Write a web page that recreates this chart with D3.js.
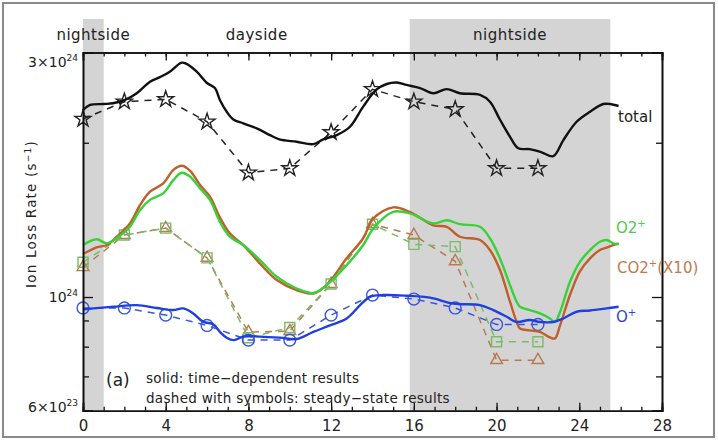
<!DOCTYPE html>
<html>
<head>
<meta charset="utf-8">
<script src="https://cdn.jsdelivr.net/npm/d3@7"></script>
<style>
  body { margin: 0; background: #fff; }
  text { font-family: "DejaVu Sans", sans-serif; fill: #222; }
</style>
</head>
<body>
<div id="chart"></div>
<script>
// steady-state runs (every 2 h), values in units of 1e24 s^-1
var hours = [0, 2, 4, 6, 8, 10, 12, 14, 16, 18, 20, 22];
var totalSteady = [2.225, 2.405, 2.431, 2.198, 1.748, 1.783, 2.096, 2.543, 2.405, 2.324, 1.783, 1.783];
var o2Steady = [1.169, 1.321, 1.363, 1.192, 0.833, 0.872, 1.060, 1.387, 1.267, 1.254, 0.818, 0.818];
var co2Steady = [1.143, 1.321, 1.363, 1.192, 0.854, 0.858, 1.060, 1.387, 1.321, 1.174, 0.753, 0.753];
var oSteady = [0.952, 0.952, 0.922, 0.880, 0.824, 0.824, 0.922, 1.009, 0.991, 0.952, 0.884, 0.884];

// time-dependent runs
var totalTime = [0, 0.34, 1.0, 1.45, 2.03, 2.6, 3.24, 3.72, 4.2, 4.77, 5.01, 5.5, 5.98, 6.38, 6.62, 6.95, 7.27, 7.75, 8.4, 9.04, 9.5, 10.33, 11.14, 11.62, 12.27, 12.91, 13.55, 14.2, 14.69, 15.17, 15.65, 16.3, 16.94, 17.59, 18.23, 19.2, 19.68, 20.16, 20.65, 21.05, 21.6, 22.18, 22.74, 23.23, 23.87, 24.52, 25.16, 25.48, 25.9];
var totalVals = [2.317, 2.370, 2.380, 2.388, 2.424, 2.498, 2.631, 2.685, 2.752, 2.866, 2.850, 2.752, 2.619, 2.557, 2.424, 2.299, 2.22, 2.182, 2.134, 2.070, 2.03, 2.009, 1.988, 2.03, 2.07, 2.149, 2.352, 2.541, 2.604, 2.622, 2.593, 2.557, 2.498, 2.545, 2.498, 2.48, 2.405, 2.22, 2.054, 1.951, 1.943, 1.916, 1.883, 2.024, 2.198, 2.299, 2.380, 2.38, 2.359];

var ionTime = [0, 0.66, 1.15, 1.63, 2.27, 2.76, 3.24, 3.88, 4.37, 4.77, 5.17, 5.66, 6.14, 6.62, 7.1, 7.75, 8.56, 9.37, 10.33, 11.14, 11.78, 12.75, 13.55, 14.04, 15.0, 15.8, 16.94, 17.59, 18.23, 19.2, 19.68, 20.16, 20.65, 20.97, 21.13, 21.6, 22.1, 22.58, 22.82, 23.07, 23.55, 24.03, 24.52, 25.0, 25.32, 25.64, 25.9];
var o2Vals = [1.263, 1.296, 1.273, 1.302, 1.371, 1.478, 1.547, 1.593, 1.691, 1.748, 1.718, 1.629, 1.547, 1.401, 1.311, 1.263, 1.180, 1.095, 1.039, 1.018, 1.055, 1.154, 1.263, 1.361, 1.466, 1.456, 1.392, 1.412, 1.387, 1.371, 1.302, 1.190, 1.055, 0.979, 0.957, 0.943, 0.929, 0.908, 0.894, 0.935, 1.071, 1.171, 1.235, 1.282, 1.292, 1.273, 1.267];
var co2Vals = [1.213, 1.250, 1.263, 1.311, 1.392, 1.512, 1.605, 1.666, 1.770, 1.804, 1.765, 1.654, 1.570, 1.430, 1.331, 1.263, 1.162, 1.079, 1.031, 1.016, 1.055, 1.190, 1.302, 1.424, 1.496, 1.466, 1.380, 1.371, 1.311, 1.292, 1.235, 1.130, 0.979, 0.894, 0.868, 0.861, 0.855, 0.834, 0.830, 0.880, 1.009, 1.122, 1.190, 1.235, 1.248, 1.263, 1.273];

var oTime = [0, 0.5, 1.47, 2.6, 3.56, 4.37, 4.85, 5.33, 5.82, 6.3, 6.62, 6.95, 7.3, 7.75, 8.56, 9.53, 10.33, 11.14, 11.94, 12.75, 13.4, 13.88, 14.52, 15.65, 16.78, 17.9, 19.2, 19.84, 20.49, 20.97, 21.6, 22.1, 22.74, 23.23, 23.87, 24.52, 25.32, 25.9];
var oVals = [0.946, 0.950, 0.957, 0.964, 0.952, 0.943, 0.950, 0.929, 0.894, 0.885, 0.855, 0.833, 0.824, 0.837, 0.837, 0.833, 0.828, 0.855, 0.880, 0.908, 0.964, 1.001, 1.009, 1.006, 0.997, 0.971, 0.964, 0.943, 0.915, 0.894, 0.902, 0.894, 0.894, 0.908, 0.936, 0.941, 0.950, 0.957];

var nightBands = [[0, 1], [15.8, 25.5]];
var sideLabels = [{t: 0.5, text: "nightside"}, {t: 8.4, text: "dayside"}, {t: 20.65, text: "nightside"}];
var xMajor = [0, 4, 8, 12, 16, 20, 24, 28];
var xMinor = d3.range(0, 29, 1);
var yMajor = [0.6, 1, 3];
var yMinor = [0.7, 0.8, 0.9, 2];

var W = 718, H = 442;
var pLeft = 83, pRight = 662, pTop = 52.5, pBottom = 410.7;

var svg = d3.select("#chart").append("svg")
  .attr("width", W)
  .attr("height", H);

var x = d3.scaleLinear().domain([0, 28]).range([pLeft, pRight]);
var y = d3.scaleLog().domain([0.6, 3]).range([pBottom, pTop]);

// outer frame
svg.append("rect")
  .attr("x", 3).attr("y", 3)
  .attr("width", 711).attr("height", 434)
  .attr("fill", "none")
  .attr("stroke", "#8a8a8a")
  .attr("stroke-width", 2);

// night shading
svg.selectAll(".band")
  .data(nightBands)
  .enter().append("rect")
  .attr("x", d => x(d[0]))
  .attr("width", d => x(d[1]) - x(d[0]))
  .attr("y", 19)
  .attr("height", pBottom - 19)
  .attr("fill", "#d4d4d4");

svg.selectAll(".side")
  .data(sideLabels)
  .enter().append("text")
  .attr("x", d => x(d.t))
  .attr("y", 40)
  .attr("text-anchor", "middle")
  .style("font-size", "15px")
  .style("letter-spacing", "0.5px")
  .text(d => d.text);

// series
var series = [
  {time: totalTime, vals: totalVals, steady: totalSteady, color: "#111", dash: "#222", symbol: d3.symbolStar, size: 80},
  {time: ionTime, vals: co2Vals, steady: co2Steady, color: "#bf5f2c", dash: "#b87a50", symbol: d3.symbolTriangle, size: 60},
  {time: ionTime, vals: o2Vals, steady: o2Steady, color: "#38d238", dash: "#7cba6a", symbol: d3.symbolSquare, size: 100},
  {time: oTime, vals: oVals, steady: oSteady, color: "#1f3fe0", dash: "#3a55dd", symbol: d3.symbolCircle, size: 110}
];

var solid = d3.line()
  .x(d => x(d[0]))
  .y(d => y(d[1]))
  .curve(d3.curveCatmullRom.alpha(0.5));
var dashed = d3.line()
  .x(d => x(d[0]))
  .y(d => y(d[1]));

series.forEach(function(s) {
  var pts = s.steady.map((v, i) => [hours[i], v]);
  svg.append("path")
    .attr("d", dashed(pts))
    .attr("fill", "none")
    .attr("stroke", s.dash)
    .attr("stroke-width", 1.5)
    .attr("stroke-dasharray", "7,6");
  svg.selectAll(null)
    .data(pts)
    .enter().append("path")
    .attr("transform", d => "translate(" + x(d[0]) + "," + y(d[1]) + ")")
    .attr("d", d3.symbol().type(s.symbol).size(s.size))
    .attr("fill", "none")
    .attr("stroke", s.dash)
    .attr("stroke-width", 1.4);
});

series.forEach(function(s) {
  var line = s.vals.map((v, i) => [s.time[i], v]);
  svg.append("path")
    .attr("d", solid(line))
    .attr("fill", "none")
    .attr("stroke", s.color)
    .attr("stroke-width", 2.4)
    .attr("stroke-linejoin", "round");
});

// axes with inward ticks
var axes = svg.append("g");
axes.append("g").attr("transform", "translate(0," + pBottom + ")")
  .call(d3.axisBottom(x).tickValues(xMinor).tickSize(-4).tickFormat(""));
axes.append("g").attr("transform", "translate(0," + pBottom + ")")
  .call(d3.axisBottom(x).tickValues(xMajor).tickSize(-8).tickPadding(10).tickFormat(d3.format("d")));
axes.append("g").attr("transform", "translate(0," + pTop + ")")
  .call(d3.axisTop(x).tickValues(xMinor).tickSize(-4).tickFormat(""));
axes.append("g").attr("transform", "translate(0," + pTop + ")")
  .call(d3.axisTop(x).tickValues(xMajor).tickSize(-8).tickFormat(""));
axes.append("g").attr("transform", "translate(" + pLeft + ",0)")
  .call(d3.axisLeft(y).tickValues(yMinor).tickSize(-6).tickFormat(""));
axes.append("g").attr("transform", "translate(" + pLeft + ",0)")
  .call(d3.axisLeft(y).tickValues(yMajor).tickSize(-10).tickFormat(""));
axes.append("g").attr("transform", "translate(" + pRight + ",0)")
  .call(d3.axisRight(y).tickValues(yMinor).tickSize(-6).tickFormat(""));
axes.append("g").attr("transform", "translate(" + pRight + ",0)")
  .call(d3.axisRight(y).tickValues(yMajor).tickSize(-10).tickFormat(""));
axes.selectAll("path.domain").attr("stroke", "#111").attr("stroke-width", 1.6);
axes.selectAll(".tick line").attr("stroke", "#111").attr("stroke-width", 1.3);
axes.selectAll(".tick text")
  .style("font-size", "15px")
  .style("font-family", "DejaVu Sans, sans-serif")
  .attr("fill", "#111");

// y tick labels with exponents (top one sits just under the frame)
var yLabels = [{v: 3, m: "3\u00d710", e: "24", off: 14}, {v: 1, m: "10", e: "24", off: 5}, {v: 0.6, m: "6\u00d710", e: "23", off: 1}];
yLabels.forEach(function(d) {
  var t = svg.append("text")
    .attr("x", pLeft - 5)
    .attr("y", y(d.v) + d.off)
    .attr("text-anchor", "end")
    .style("font-size", "14px");
  t.append("tspan").text(d.m);
  t.append("tspan").attr("dy", -6).style("font-size", "9px").text(d.e);
});

// y axis title
var yt = svg.append("text")
  .attr("transform", "translate(36,214) rotate(-90)")
  .attr("text-anchor", "middle")
  .style("font-size", "13.5px")
  .style("letter-spacing", "1.2px");
yt.append("tspan").text("Ion Loss Rate (s");
yt.append("tspan").attr("dy", -5).style("font-size", "9px").text("\u22121");
yt.append("tspan").attr("dy", 5).text(")");

// series labels on the right
svg.append("text").attr("x", 618).attr("y", 122).style("font-size", "15px").text("total");
var o2l = svg.append("text").attr("x", 616).attr("y", 233).style("font-size", "15px").style("fill", "#4fc94f");
o2l.append("tspan").text("O2");
o2l.append("tspan").attr("dy", -6).style("font-size", "10px").text("+");
var co2l = svg.append("text").attr("x", 617).attr("y", 273).style("font-size", "15px").style("fill", "#c4784a");
co2l.append("tspan").text("CO2");
co2l.append("tspan").attr("dy", -6).style("font-size", "10px").text("+");
co2l.append("tspan").attr("dy", 6).text("(X10)");
var ol = svg.append("text").attr("x", 616).attr("y", 322).style("font-size", "15px").style("fill", "#2a46d8");
ol.append("tspan").text("O");
ol.append("tspan").attr("dy", -6).style("font-size", "10px").text("+");

// annotation
svg.append("text").attr("x", 106).attr("y", 386).style("font-size", "17px").text("(a)");
svg.append("text").attr("x", 146).attr("y", 383).style("font-size", "13.5px").style("letter-spacing", "0.3px")
  .text("solid: time\u2212dependent results");
svg.append("text").attr("x", 146).attr("y", 403).style("font-size", "13.5px").style("letter-spacing", "0.3px")
  .text("dashed with symbols: steady\u2212state results");
</script>
</body>
</html>
